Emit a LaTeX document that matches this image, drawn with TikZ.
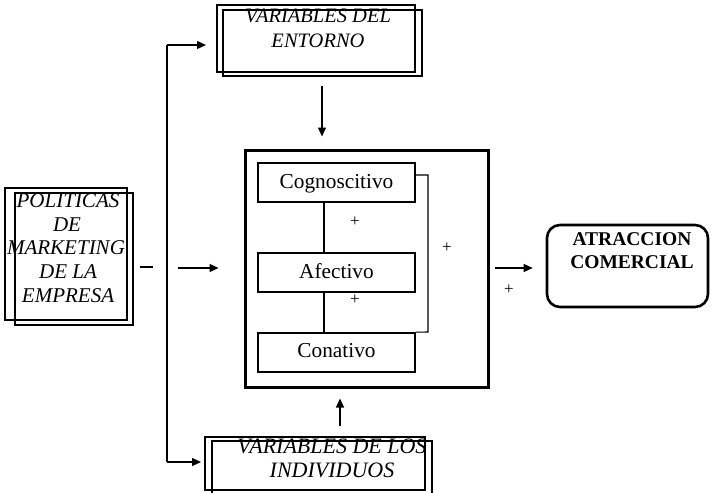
\documentclass[tikz,border=0pt]{standalone}
\usepackage{fontspec}
\setmainfont{Liberation Serif}
\usetikzlibrary{arrows.meta}
\begin{document}
\begin{tikzpicture}[x=1pt,y=-1pt,
  dbox/.style={draw,line width=1.8pt},
  inbox/.style={draw,line width=1.6pt,minimum width=157pt,minimum height=39pt,inner sep=0pt},
  ital/.style={font=\fontsize{21}{24}\selectfont\itshape,anchor=base,inner sep=0pt},
  plain/.style={font=\fontsize{21.3}{24}\selectfont,inner sep=0pt},
  pl/.style={font=\fontsize{17}{17}\selectfont,inner sep=0pt},
  arr/.style={line width=1.4pt,-{Triangle[length=9pt,width=8pt]}},
  thin/.style={line width=1.1pt}]
\useasboundingbox (0,0) rectangle (713,493);
% Politicas box
\node[dbox,minimum width=122pt,minimum height=132pt,inner sep=0pt] (pol) at (66,254) {};
\draw[dbox] (15,193) rectangle (133,325);
\node[ital] (p1) at (68,207) {POLITICAS};
\node[ital] (p2) at (67,231) {DE};
\node[ital] (p3) at (66,254) {MARKETING};
\node[ital] (p4) at (68,278) {DE LA};
\node[ital] (p5) at (68,302) {EMPRESA};
% Variables del entorno
\node[dbox,minimum width=198pt,minimum height=67pt,inner sep=0pt] (ent) at (316,38.5) {};
\draw[dbox] (223,10) rectangle (422,76);
\node[ital,font=\fontsize{20.5}{24}\selectfont\itshape] (e1) at (318,22) {VARIABLES DEL};
\node[ital,font=\fontsize{20.5}{24}\selectfont\itshape] (e2) at (318,47) {ENTORNO};
% Variables de los individuos
\node[dbox,minimum width=220pt,minimum height=53pt,inner sep=0pt] (ind) at (315,463.5) {};
\draw[dbox] (212,441) rectangle (432,495);
\node[ital,font=\fontsize{22}{24}\selectfont\itshape] (i1) at (332,453) {VARIABLES DE LOS};
\node[ital,font=\fontsize{22}{24}\selectfont\itshape] (i2) at (332,477) {INDIVIDUOS};
% big box
\node[draw,line width=3pt,minimum width=243pt,minimum height=237pt,inner sep=0pt] (big) at (366.5,268.5) {};
\node[inbox] (cog) at (336.5,182.5) {};
\node[plain,anchor=base] at (336.5,188) {Cognoscitivo};
\node[inbox] (afe) at (336.5,272.5) {};
\node[plain,anchor=base] at (336.5,278) {Afectivo};
\node[inbox] (con) at (336.5,352.5) {};
\node[plain,anchor=base] at (336.5,357) {Conativo};
\draw[thin] (cog.south -| 324,0) -- (afe.north -| 324,0);
\draw[thin] (afe.south -| 324,0) -- (con.north -| 324,0);
\draw[thin] (cog.east |- 0,175) -- (428,175) -- (428,332) -- (con.north east);
\node[pl] at (355,222) {+};
\node[pl] at (355,300) {+};
\node[pl] at (447,248) {+};
% Atraccion
\node[draw,line width=2.6pt,rounded corners=13pt,minimum width=161pt,minimum height=82pt,inner sep=0pt] (atr) at (627.5,266) {};
\node[font=\fontsize{19.5}{22}\selectfont\bfseries,anchor=base,inner sep=0pt] at (632,245) {ATRACCION};
\node[font=\fontsize{19.5}{22}\selectfont\bfseries,anchor=base,inner sep=0pt] at (632,268) {COMERCIAL};
\node[pl] at (509,290) {+};
% connectors
\coordinate (d1) at (140,267);
\coordinate (d2) at (153,267);
\draw[line width=1.5pt] (d1) -- (d2);
\coordinate (vt) at (167,45);
\coordinate (vb) at (167,462);
\draw[line width=1.5pt] (vb) -- (vt);
\draw[arr] (vt) -- (206,45);
\draw[arr] (vb) -- (201,462);
\coordinate (ha) at (178,268);
\draw[arr,shorten >=25pt] (ha) -- (big.west |- ha);
\coordinate (ta) at (322,86);
\draw[arr,shorten >=12pt] (ta) -- (big.north -| ta);
\coordinate (ba) at (340,426);
\draw[arr,shorten >=10pt] (ba) -- (big.south -| ba);
\coordinate (ra) at (495,268);
\draw[arr,shorten >=13pt] (ra) -- (atr.west |- ra);
\end{tikzpicture}
\end{document}
